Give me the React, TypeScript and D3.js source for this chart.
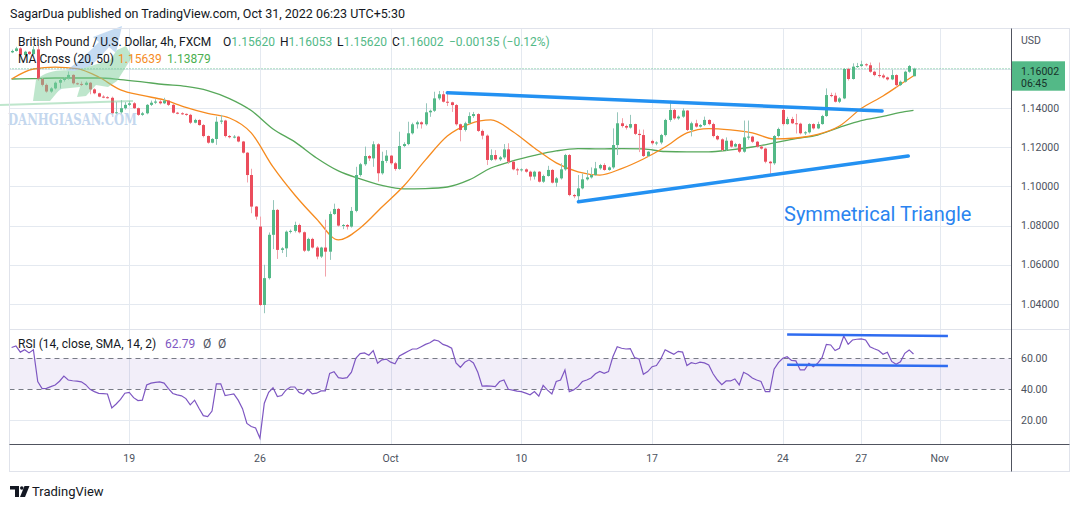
import React from 'react';
import * as d3 from 'd3';

// GBP/USD 4h candles (open = previous close unless listed in openGaps)
const closes = [
  1.1691, 1.1704, 1.1670, 1.1687, 1.1675, 1.1699, 1.1548, 1.1518, 1.1484, 1.1500,
  1.1529, 1.1543, 1.1552, 1.1569, 1.1526, 1.1523, 1.1518, 1.1529, 1.1495, 1.1475,
  1.1458, 1.1455, 1.1452, 1.1373, 1.1378, 1.1399, 1.1416, 1.1424, 1.1399, 1.1365,
  1.1373, 1.1416, 1.1427, 1.1433, 1.1424, 1.1438, 1.1416, 1.1376, 1.1373, 1.1370,
  1.1365, 1.1325, 1.1339, 1.1313, 1.1257, 1.1223, 1.1242, 1.1330, 1.1336, 1.1257,
  1.1251, 1.1254, 1.1229, 1.1172, 1.1058, 1.0897, 1.0846, 1.0395, 1.0532, 1.0753,
  1.0880, 1.0676, 1.0684, 1.0769, 1.0773, 1.0803, 1.0766, 1.0672, 1.0732, 1.0688,
  1.0642, 1.0688, 1.0667, 1.0859, 1.0885, 1.0800, 1.0803, 1.0795, 1.0875, 1.1058,
  1.1113, 1.1155, 1.1143, 1.1215, 1.1067, 1.1130, 1.1157, 1.1118, 1.1089, 1.1206,
  1.1216, 1.1271, 1.1317, 1.1327, 1.1317, 1.1378, 1.1386, 1.1449, 1.1470, 1.1432,
  1.1429, 1.1415, 1.1317, 1.1288, 1.1322, 1.1359, 1.1369, 1.1283, 1.1259, 1.1135,
  1.1160, 1.1138, 1.1148, 1.1189, 1.1126, 1.1087, 1.1084, 1.1087, 1.1075, 1.1050,
  1.1075, 1.1024, 1.1053, 1.1084, 1.1019, 1.1041, 1.1087, 1.1160, 1.0956, 1.0950,
  1.0990, 1.1036, 1.1046, 1.1058, 1.1092, 1.1109, 1.1084, 1.1097, 1.1211, 1.1322,
  1.1308, 1.1300, 1.1318, 1.1268, 1.1262, 1.1155, 1.1177, 1.1220, 1.1224, 1.1262,
  1.1339, 1.1390, 1.1347, 1.1356, 1.1387, 1.1288, 1.1322, 1.1305, 1.1313, 1.1339,
  1.1318, 1.1257, 1.1240, 1.1186, 1.1233, 1.1203, 1.1216, 1.1177, 1.1250, 1.1254,
  1.1228, 1.1203, 1.1193, 1.1126, 1.1118, 1.1257, 1.1293, 1.1318, 1.1344, 1.1322,
  1.1320, 1.1271, 1.1276, 1.1318, 1.1296, 1.1318, 1.1359, 1.1466, 1.1463, 1.1432,
  1.1449, 1.1599, 1.1548, 1.1611, 1.1614, 1.1623, 1.1618, 1.1585, 1.1568, 1.1566,
  1.1556, 1.1546, 1.1568, 1.1517, 1.1534, 1.1585, 1.1614, 1.16002,
];

const highs = [
  1.1698, 1.1712, 1.1710, 1.1692, 1.1690, 1.1715, 1.1720, 1.1552, 1.1525, 1.1506,
  1.1535, 1.1550, 1.1558, 1.1586, 1.1572, 1.1530, 1.1535, 1.1536, 1.1533, 1.1500,
  1.1478, 1.1465, 1.1460, 1.1458, 1.1430, 1.1440, 1.1430, 1.1435, 1.1430, 1.1402,
  1.1380, 1.1420, 1.1438, 1.1445, 1.1440, 1.1452, 1.1440, 1.1420, 1.1380, 1.1378,
  1.1372, 1.1370, 1.1345, 1.1342, 1.1318, 1.1260, 1.1246, 1.1356, 1.1365, 1.1340,
  1.1262, 1.1262, 1.1258, 1.1232, 1.1175, 1.1090, 1.0900, 1.0846, 1.0600, 1.0765,
  1.0930, 1.0885, 1.0690, 1.0775, 1.0780, 1.0820, 1.0810, 1.0770, 1.0738, 1.0738,
  1.0695, 1.0692, 1.0830, 1.0872, 1.0912, 1.0890, 1.0808, 1.0808, 1.0895, 1.1100,
  1.1120, 1.1203, 1.1160, 1.1230, 1.1220, 1.1177, 1.1185, 1.1160, 1.1125, 1.1279,
  1.1225, 1.1330, 1.1325, 1.1335, 1.1332, 1.1424, 1.1392, 1.1483, 1.1487, 1.1487,
  1.1487, 1.1432, 1.1420, 1.1320, 1.1330, 1.1378, 1.1380, 1.1373, 1.1290, 1.1265,
  1.1189, 1.1185, 1.1155, 1.1216, 1.1220, 1.1130, 1.1095, 1.1092, 1.1092, 1.1080,
  1.1080, 1.1078, 1.1060, 1.1105, 1.1088, 1.1048, 1.1118, 1.1166, 1.1165, 1.0962,
  1.1058, 1.1066, 1.1083, 1.1097, 1.1125, 1.1115, 1.1118, 1.1102, 1.1296, 1.1378,
  1.1348, 1.1315, 1.1365, 1.1320, 1.1290, 1.1290, 1.1180, 1.1238, 1.1230, 1.1268,
  1.1345, 1.1437, 1.1395, 1.1362, 1.1398, 1.1390, 1.1330, 1.1340, 1.1318, 1.1356,
  1.1342, 1.1325, 1.1262, 1.1245, 1.1250, 1.1238, 1.1222, 1.1220, 1.1336, 1.1336,
  1.1258, 1.1232, 1.1208, 1.1198, 1.1130, 1.1262, 1.1300, 1.1404, 1.1355, 1.1355,
  1.1370, 1.1325, 1.1282, 1.1322, 1.1322, 1.1330, 1.1365, 1.1500, 1.1478, 1.1478,
  1.1455, 1.1603, 1.1605, 1.1628, 1.1630, 1.1641, 1.1628, 1.1632, 1.1590, 1.1632,
  1.1575, 1.1560, 1.1595, 1.1572, 1.1540, 1.1590, 1.1619, 1.16053,
];

const lows = [
  1.1680, 1.1688, 1.1665, 1.1666, 1.1671, 1.1672, 1.1540, 1.1510, 1.1478, 1.1478,
  1.1495, 1.1500, 1.1535, 1.1545, 1.1520, 1.1518, 1.1512, 1.1515, 1.1470, 1.1470,
  1.1455, 1.1450, 1.1448, 1.1355, 1.1368, 1.1370, 1.1392, 1.1410, 1.1395, 1.1360,
  1.1360, 1.1368, 1.1410, 1.1420, 1.1418, 1.1420, 1.1410, 1.1372, 1.1368, 1.1365,
  1.1360, 1.1318, 1.1322, 1.1310, 1.1250, 1.1218, 1.1220, 1.1212, 1.1318, 1.1250,
  1.1245, 1.1245, 1.1225, 1.1168, 1.1020, 1.0863, 1.0830, 1.0390, 1.0353, 1.0525,
  1.0680, 1.0630, 1.0660, 1.0640, 1.0760, 1.0765, 1.0760, 1.0665, 1.0668, 1.0683,
  1.0628, 1.0635, 1.0540, 1.0625, 1.0855, 1.0795, 1.0782, 1.0780, 1.0790, 1.0868,
  1.1050, 1.1105, 1.1130, 1.1100, 1.1025, 1.1060, 1.1120, 1.1110, 1.1080, 1.1085,
  1.1200, 1.1210, 1.1265, 1.1295, 1.1295, 1.1310, 1.1355, 1.1380, 1.1440, 1.1428,
  1.1410, 1.1380, 1.1310, 1.1230, 1.1280, 1.1318, 1.1350, 1.1278, 1.1240, 1.1109,
  1.1130, 1.1132, 1.1130, 1.1140, 1.1115, 1.1082, 1.1058, 1.1075, 1.1070, 1.1030,
  1.1035, 1.1020, 1.1018, 1.1050, 1.1015, 1.0998, 1.1035, 1.1080, 1.0950, 1.0940,
  1.0922, 1.0985, 1.1030, 1.1040, 1.1055, 1.1085, 1.1080, 1.1080, 1.1090, 1.1160,
  1.1300, 1.1290, 1.1295, 1.1262, 1.1175, 1.1150, 1.1150, 1.1212, 1.1210, 1.1215,
  1.1255, 1.1330, 1.1340, 1.1340, 1.1350, 1.1282, 1.1255, 1.1300, 1.1300, 1.1308,
  1.1312, 1.1250, 1.1235, 1.1180, 1.1182, 1.1198, 1.1200, 1.1170, 1.1172, 1.1238,
  1.1222, 1.1198, 1.1188, 1.1118, 1.1064, 1.1110, 1.1250, 1.1310, 1.1315, 1.1318,
  1.1270, 1.1265, 1.1262, 1.1270, 1.1290, 1.1292, 1.1315, 1.1355, 1.1455, 1.1428,
  1.1425, 1.1445, 1.1540, 1.1545, 1.1605, 1.1610, 1.1612, 1.1580, 1.1562, 1.1555,
  1.1550, 1.1540, 1.1542, 1.1505, 1.1512, 1.1530, 1.1580, 1.1562,
];

// bars that opened away from the previous close (weekend gaps)
const openGaps: Record<number, number> = { 0: 1.1684, 57: 1.0795, 147: 1.1232, 177: 1.139, 207: 1.1562 };

// MA Cross (20, 50), sampled every 5 bars
const maIdx = [
  0, 5, 10, 15, 20, 25, 30, 35, 40, 45, 50, 55, 60, 65, 70, 75, 80, 85, 90, 95, 100,
  105, 110, 115, 120, 125, 130, 135, 140, 145, 150, 155, 160, 165, 170, 175, 180, 185,
  190, 195, 200, 205, 207,
];
const ma20 = [
  1.1548, 1.1599, 1.1609, 1.1601, 1.1558, 1.1492, 1.1464, 1.1441, 1.1403, 1.1372, 1.1349,
  1.1273, 1.1099, 1.0956, 1.0834, 1.0727, 1.0788, 1.0895, 1.1002, 1.1135, 1.1257, 1.1318,
  1.1339, 1.128, 1.1196, 1.112, 1.1074, 1.1058, 1.1091, 1.114, 1.1201, 1.1273, 1.1295,
  1.1288, 1.1273, 1.1242, 1.1247, 1.1265, 1.1308, 1.1397, 1.1461, 1.1535, 1.15639,
];
const ma50 = [
  1.1548, 1.155, 1.1553, 1.1553, 1.1553, 1.1545, 1.1533, 1.152, 1.151, 1.1489, 1.1448,
  1.1387, 1.1293, 1.1227, 1.1145, 1.1079, 1.1038, 1.1005, 1.0987, 1.0989, 1.0997, 1.1033,
  1.1094, 1.113, 1.1158, 1.1181, 1.1193, 1.1191, 1.1193, 1.1191, 1.1178, 1.1176, 1.1176,
  1.1186, 1.1201, 1.1222, 1.1244, 1.1262, 1.1301, 1.1336, 1.1357, 1.1382, 1.13879,
];

// RSI (14), one value per bar
const rsi = [
  67, 68, 64, 65.5, 63.5, 65.5, 45, 40.5, 40.6, 41.7,
  42.8, 45.2, 48.5, 46, 45.5, 45.3, 44.8, 43, 40, 38.5,
  37.4, 37.2, 37, 28, 30.5, 33.5, 37.5, 38, 34.6, 32.7,
  33, 42.8, 44, 44.5, 44.8, 44, 40.5, 37.3, 36.4, 35.8,
  34, 30, 33, 27.8, 23, 22.4, 26, 43.5, 43.5, 36,
  36.5, 37, 33, 27.5, 18, 16, 15, 8.5, 31, 38,
  41, 35.3, 36, 39.6, 41.5, 41.5, 38, 37, 40, 37,
  37.5, 39, 39, 50.3, 51.4, 47.5, 47, 47.5, 51, 60,
  63, 63.5, 62, 65, 56.8, 59, 59.5, 57.5, 56.5, 61.5,
  63, 64.5, 66, 66, 67.5, 69, 70, 71.8, 71.2, 69,
  68, 66.5, 57, 54.2, 57.4, 59, 57, 51, 42, 42.2,
  42, 41.7, 45, 46, 40, 39.5, 38.8, 38.5, 37.5, 36.5,
  38.5, 35.5, 42.5, 39.5, 37, 45, 46, 52.5, 38.5, 39.6,
  41.7, 45, 46, 47.3, 50, 51.5, 50.3, 51.4, 61, 67.5,
  66.5, 66, 66.3, 60.4, 59.6, 49.7, 51.4, 54.6, 55.3, 59.5,
  65.5, 64, 62.6, 64.5, 64, 55.3, 57.2, 56.5, 57.5, 57,
  55.7, 50, 46, 43, 45.4, 45.4, 46.7, 42.8, 51, 49.5,
  47.3, 46, 45, 38.5, 38.5, 53, 57.2, 60, 61, 58.6,
  58.3, 52.5, 52.5, 56.8, 54.6, 56.8, 60.4, 69, 68.6, 65,
  66.5, 74.4, 69, 71.8, 72.3, 72.5, 71.8, 67.5, 66.2, 65,
  62.6, 63.9, 58, 56.1, 57.8, 63.2, 65.4, 62.79,
];

const dateTickIdx = [27, 57, 87, 117, 147, 177, 195, 213];
const dateTickLabels = ['19', '26', 'Oct', '10', '17', '24', '27', 'Nov'];
const priceTicks = [1.04, 1.06, 1.08, 1.1, 1.12, 1.14];
const rsiTicks = [20, 40, 60];

// drawings: [bar index, value]
const triUpper = [[100, 1.1478], [199.8, 1.1385]];
const triLower = [[130.1, 1.0922], [205.8, 1.1155]];
const rsiUpper = [[178, 75.3], [214.9, 74.4]];
const rsiLower = [[178, 55.9], [214.9, 55.0]];

const lastPrice = 1.16002;

const UP = '#53b987';
const DOWN = '#eb4d5c';
const WICK_UP = '#96c6bb';
const WICK_DOWN = '#f2a2aa';
const GRID = '#e4e9f0';
const TEXT = '#131722';
const AXIS_TEXT = '#4c525e';
const FONT = 'Roboto, "Noto Sans", Arial, sans-serif';

const LEFT = 9.5;
const PLOT_R = 1011.5;
const RIGHT = 1069.5;
const TOP = 28.5;
const PANE_SPLIT = 329.5;
const RSI_BOTTOM = 444.5;
const BOTTOM = 471.5;

export default function App() {
  const x = d3.scaleLinear().domain([0, 207]).range([11.6, 913.5]);
  const y = d3.scaleLinear().domain([1.04, 1.16]).range([304, 68.8]);
  const yR = d3.scaleLinear().domain([20, 60]).range([420.3, 358.3]);

  const candles = closes.map((c, i) => ({
    i,
    o: openGaps[i] ?? closes[i - 1],
    h: highs[i],
    l: lows[i],
    c,
  }));

  const maLine = d3
    .line<number>()
    .x((_, k) => x(maIdx[k]))
    .y((v) => y(v))
    .curve(d3.curveMonotoneX);

  const rsiLine = d3
    .line<number>()
    .x((_, i) => x(i))
    .y((v) => yR(v));

  const priceSeg = d3
    .line<number[]>()
    .x((d) => x(d[0]))
    .y((d) => y(d[1]));
  const rsiSeg = d3
    .line<number[]>()
    .x((d) => x(d[0]))
    .y((d) => yR(d[1]));

  const snap = (v: number) => Math.round(v) + 0.5;
  const gridX = dateTickIdx.map((i) => snap(x(i)));

  return (
    <div style={{ position: 'absolute', left: 0, top: 0 }}>
      <svg width={1079} height={508} style={{ display: 'block', background: '#fff' }} fontFamily={FONT}>
        <defs>
          <clipPath id="pricePane">
            <rect x={LEFT} y={TOP} width={PLOT_R - LEFT} height={PANE_SPLIT - TOP} />
          </clipPath>
          <clipPath id="rsiPane">
            <rect x={LEFT} y={PANE_SPLIT} width={PLOT_R - LEFT} height={RSI_BOTTOM - PANE_SPLIT} />
          </clipPath>
        </defs>

        <text x={10} y={18} fontSize={12.5} fill={TEXT}>
          SagarDua published on TradingView.com, Oct 31, 2022 06:23 UTC+5:30
        </text>

        {/* grid */}
        {gridX.map((gx, k) => (
          <line key={'gx' + k} x1={gx} x2={gx} y1={TOP} y2={RSI_BOTTOM} stroke={GRID} />
        ))}
        {[...priceTicks, 1.16].map((p) => (
          <line key={'gp' + p} x1={LEFT} x2={PLOT_R} y1={snap(y(p))} y2={snap(y(p))} stroke={GRID} />
        ))}
        <line x1={LEFT} x2={PLOT_R} y1={snap(yR(20))} y2={snap(yR(20))} stroke={GRID} />

        {/* price pane */}
        <g clipPath="url(#pricePane)">
          <path d={maLine(ma50) ?? ''} fill="none" stroke="#57a85a" strokeWidth={1.3} />
          <path d={maLine(ma20) ?? ''} fill="none" stroke="#f68b1f" strokeWidth={1.3} />
          {candles.map((d) => {
            const up = d.c >= d.o;
            const px = Math.round(x(d.i));
            const top = y(Math.max(d.o, d.c));
            const bot = y(Math.min(d.o, d.c));
            return (
              <g key={d.i}>
                <line
                  x1={px + 0.5}
                  x2={px + 0.5}
                  y1={y(Math.max(d.h, d.o, d.c))}
                  y2={y(Math.min(d.l, d.o, d.c))}
                  stroke={up ? WICK_UP : WICK_DOWN}
                />
                <rect x={px - 1} y={top} width={3} height={Math.max(1, bot - top)} fill={up ? UP : DOWN} />
              </g>
            );
          })}
          <line
            x1={LEFT}
            x2={PLOT_R}
            y1={y(lastPrice)}
            y2={y(lastPrice)}
            stroke={UP}
            strokeDasharray="1 2"
          />
          <path d={priceSeg(triUpper) ?? ''} stroke="#2391f2" strokeWidth={3.5} strokeLinecap="round" />
          <path d={priceSeg(triLower) ?? ''} stroke="#2391f2" strokeWidth={3.5} strokeLinecap="round" />
        </g>

        <text x={784} y={221} fontSize={20} fill="#2a84f0">
          Symmetrical Triangle
        </text>

        {/* watermark */}
        <g opacity={0.5}>
          <path
            d="M40,90 C60,76 84,58 99,42 L93,37 L122,26 L116,53 L109,47 C93,66 70,84 48,98 Z"
            fill="#8db8e6"
          />
          <path
            d="M33,101 L36,80 C46,71 60,69 74,71 L94,65 L110,60 L117,50 L126,46 L132,57 L124,70 L117,81 L108,87 L96,85 L86,96 L77,97 L80,87 L60,89 L50,101 Z"
            fill="#7fcf9b"
          />
          <path d="M0,105 L133,101" stroke="#7fcf9b" strokeWidth={2} />
        </g>
        <text
          x={8}
          y={125}
          fontSize={17}
          fontFamily='"DejaVu Serif", serif'
          fontWeight="bold"
          fill="#c4d7ee"
          textLength={129}
          lengthAdjust="spacingAndGlyphs"
        >
          DANHGIASAN.COM
        </text>

        {/* legend */}
        <g fontSize={12}>
          <text x={18} y={46} fill={TEXT}>
            British Pound / U.S. Dollar, 4h, FXCM
          </text>
          <text x={223} y={46} fill={TEXT}>
            O<tspan fill={UP}>1.15620</tspan>
          </text>
          <text x={280} y={46} fill={TEXT}>
            H<tspan fill={UP}>1.16053</tspan>
          </text>
          <text x={337} y={46} fill={TEXT}>
            L<tspan fill={UP}>1.15620</tspan>
          </text>
          <text x={392} y={46} fill={TEXT}>
            C<tspan fill={UP}>1.16002</tspan>
          </text>
          <text x={449} y={46} fill={UP}>
            −0.00135 (−0.12%)
          </text>
          <text x={18} y={63} fill={TEXT}>
            MA Cross (20, 50)
          </text>
          <text x={118} y={63} fill="#f68b1f">
            1.15639
          </text>
          <text x={167} y={63} fill="#4caf50">
            1.13879
          </text>
        </g>

        {/* RSI pane */}
        <rect
          x={LEFT}
          y={yR(60)}
          width={PLOT_R - LEFT}
          height={yR(40) - yR(60)}
          fill="rgba(126, 87, 194, 0.1)"
        />
        {[60, 40].map((v) => (
          <line
            key={'rb' + v}
            x1={LEFT}
            x2={PLOT_R}
            y1={snap(yR(v))}
            y2={snap(yR(v))}
            stroke="#787b86"
            strokeDasharray="5 4"
          />
        ))}
        <g clipPath="url(#rsiPane)">
          <path d={rsiLine(rsi) ?? ''} fill="none" stroke="#7e57c2" strokeWidth={1.2} />
          <path d={rsiSeg(rsiUpper) ?? ''} stroke="#2f6cf0" strokeWidth={2.5} />
          <path d={rsiSeg(rsiLower) ?? ''} stroke="#2f6cf0" strokeWidth={2.5} />
        </g>
        <g fontSize={12}>
          <text x={18} y={348} fill={TEXT}>
            RSI (14, close, SMA, 14, 2)
          </text>
          <text x={165} y={348} fill="#7e57c2">
            62.79
          </text>
          <text x={203} y={348} fill={AXIS_TEXT}>
            Ø
          </text>
          <text x={218} y={348} fill={AXIS_TEXT}>
            Ø
          </text>
        </g>

        {/* frame and axes */}
        <rect x={LEFT} y={TOP} width={RIGHT - LEFT} height={BOTTOM - TOP} fill="none" stroke="#e0e3eb" />
        <line x1={LEFT} x2={RIGHT} y1={PANE_SPLIT} y2={PANE_SPLIT} stroke="#e0e3eb" />
        <line x1={LEFT} x2={RIGHT} y1={RSI_BOTTOM} y2={RSI_BOTTOM} stroke="#50535e" />
        <line x1={PLOT_R} x2={PLOT_R} y1={TOP} y2={BOTTOM} stroke="#50535e" />

        <g fontSize={10.5} fill={AXIS_TEXT}>
          <text x={1021} y={44}>
            USD
          </text>
          {priceTicks.map((p) => (
            <text key={'pt' + p} x={1021} y={y(p)} dominantBaseline="central">
              {p.toFixed(5)}
            </text>
          ))}
          {rsiTicks.map((v) => (
            <text key={'rt' + v} x={1021} y={yR(v)} dominantBaseline="central">
              {v.toFixed(2)}
            </text>
          ))}
          {dateTickIdx.map((i, k) => (
            <text key={'dt' + k} x={x(i)} y={458} textAnchor="middle" dominantBaseline="central">
              {dateTickLabels[k]}
            </text>
          ))}
        </g>

        {/* last price tag */}
        <rect x={1012} y={61.3} width={53} height={29.4} fill={UP} />
        <g fontSize={10.5} fill="#17332a">
          <text x={1021} y={71} dominantBaseline="central">
            {lastPrice.toFixed(5)}
          </text>
          <text x={1021} y={83} dominantBaseline="central">
            06:45
          </text>
        </g>

        {/* TradingView logo */}
        <g fill={TEXT}>
          <path d="M10,486 H19 V497 H15 V489.5 H10 Z" />
          <circle cx={21.8} cy={488} r={1.8} />
          <path d="M24.5,486 H29.5 L25,497 H20 Z" />
          <text x={32} y={496} fontSize={13}>
            TradingView
          </text>
        </g>
      </svg>
    </div>
  );
}
